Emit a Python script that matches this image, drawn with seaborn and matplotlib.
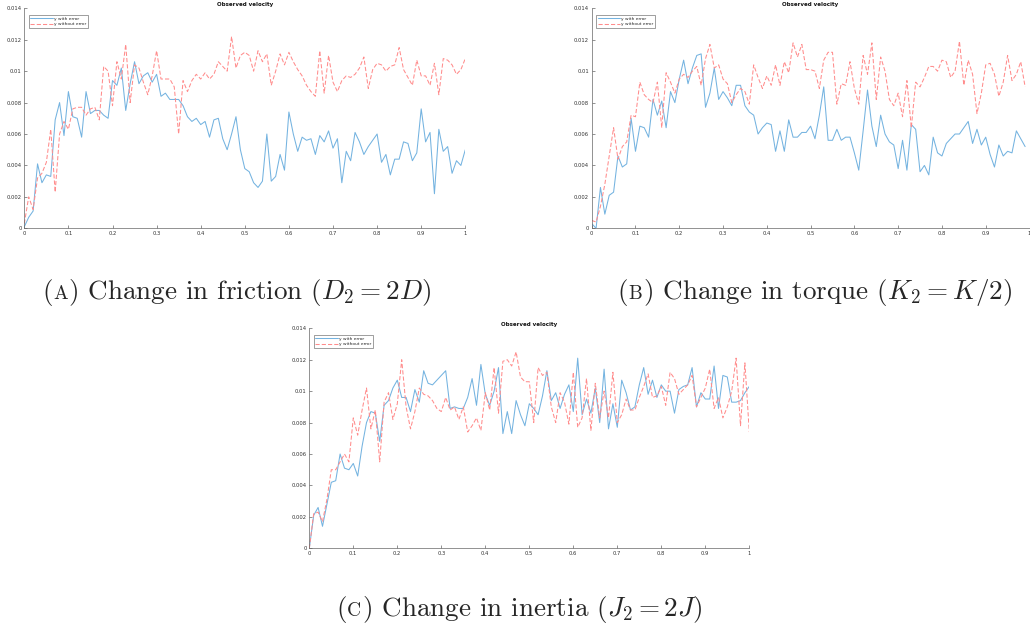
import numpy as np
import pandas as pd
import matplotlib
matplotlib.use("Agg")
import matplotlib.pyplot as plt
import seaborn as sns

# ---------------- data ----------------
t_a = [round(i * 0.01, 2) for i in range(101)]
t_b = [round(i * 0.01, 2) for i in range(100)]
t_c = [round(i * 0.01, 2) for i in range(101)]

a_with = [0.0001, 0.0007, 0.0011, 0.0041, 0.0029, 0.0034, 0.0033, 0.0069, 0.0080, 0.0059,
          0.0087, 0.0071, 0.0070, 0.0058, 0.0087, 0.0073, 0.0075, 0.0075, 0.0072, 0.0070,
          0.0094, 0.0091, 0.0102, 0.0075, 0.0092, 0.0106, 0.0092, 0.0097, 0.0099, 0.0093,
          0.0098, 0.0084, 0.0086, 0.0082, 0.0082, 0.0082, 0.0078, 0.0071, 0.0068, 0.0070,
          0.0066, 0.0068, 0.0058, 0.0069, 0.0070, 0.0057, 0.0050, 0.0060, 0.0071, 0.0050,
          0.0038, 0.0036, 0.0029, 0.0026, 0.0030, 0.0060, 0.0030, 0.0033, 0.0047, 0.0037,
          0.0074, 0.0060, 0.0049, 0.0058, 0.0056, 0.0057, 0.0047, 0.0059, 0.0055, 0.0062,
          0.0051, 0.0057, 0.0029, 0.0049, 0.0043, 0.0061, 0.0055, 0.0047, 0.0052, 0.0056,
          0.0060, 0.0042, 0.0047, 0.0034, 0.0044, 0.0044, 0.0055, 0.0054, 0.0043, 0.0048,
          0.0076, 0.0055, 0.0061, 0.0022, 0.0063, 0.0049, 0.0052, 0.0035, 0.0043, 0.0040,
          0.0050]
a_without = [0.0003, 0.0020, 0.0012, 0.0032, 0.0035, 0.0042, 0.0063, 0.0023, 0.0060, 0.0068,
             0.0063, 0.0076, 0.0077, 0.0077, 0.0072, 0.0076, 0.0077, 0.0069, 0.0103, 0.0100,
             0.0078, 0.0106, 0.0095, 0.0117, 0.0080, 0.0104, 0.0102, 0.0093, 0.0085, 0.0097,
             0.0113, 0.0095, 0.0095, 0.0095, 0.0090, 0.0060, 0.0094, 0.0087, 0.0094, 0.0098,
             0.0095, 0.0099, 0.0095, 0.0098, 0.0106, 0.0103, 0.0100, 0.0122, 0.0102, 0.0110,
             0.0112, 0.0110, 0.0100, 0.0113, 0.0106, 0.0111, 0.0091, 0.0100, 0.0111, 0.0104,
             0.0112, 0.0106, 0.0101, 0.0097, 0.0091, 0.0087, 0.0084, 0.0113, 0.0086, 0.0110,
             0.0093, 0.0087, 0.0094, 0.0097, 0.0096, 0.0098, 0.0102, 0.0109, 0.0089, 0.0101,
             0.0105, 0.0104, 0.0100, 0.0103, 0.0104, 0.0115, 0.0101, 0.0096, 0.0091, 0.0107,
             0.0097, 0.0097, 0.0091, 0.0105, 0.0085, 0.0108, 0.0107, 0.0104, 0.0098, 0.0101,
             0.0108]

b_with = [0.0003, 0.0000, 0.0026, 0.0009, 0.0021, 0.0023, 0.0046, 0.0039, 0.0041, 0.0070,
          0.0049, 0.0065, 0.0064, 0.0058, 0.0082, 0.0072, 0.0081, 0.0064, 0.0087, 0.0080,
          0.0095, 0.0107, 0.0092, 0.0102, 0.0110, 0.0111, 0.0077, 0.0086, 0.0102, 0.0082,
          0.0087, 0.0083, 0.0078, 0.0091, 0.0091, 0.0078, 0.0074, 0.0072, 0.0060, 0.0064,
          0.0067, 0.0066, 0.0049, 0.0062, 0.0049, 0.0069, 0.0058, 0.0058, 0.0061, 0.0061,
          0.0065, 0.0057, 0.0072, 0.0090, 0.0056, 0.0056, 0.0063, 0.0056, 0.0058, 0.0058,
          0.0048, 0.0037, 0.0062, 0.0088, 0.0065, 0.0052, 0.0072, 0.0060, 0.0055, 0.0053,
          0.0038, 0.0056, 0.0037, 0.0066, 0.0063, 0.0036, 0.0040, 0.0034, 0.0058, 0.0048,
          0.0046, 0.0054, 0.0057, 0.0060, 0.0060, 0.0064, 0.0068, 0.0054, 0.0063, 0.0053,
          0.0058, 0.0047, 0.0039, 0.0053, 0.0046, 0.0049, 0.0048, 0.0062, 0.0057, 0.0052]
b_without = [0.0005, 0.0004, 0.0014, 0.0028, 0.0046, 0.0064, 0.0044, 0.0052, 0.0055, 0.0072,
             0.0071, 0.0093, 0.0085, 0.0082, 0.0080, 0.0093, 0.0064, 0.0099, 0.0093, 0.0086,
             0.0095, 0.0098, 0.0096, 0.0100, 0.0103, 0.0091, 0.0108, 0.0117, 0.0102, 0.0104,
             0.0095, 0.0092, 0.0080, 0.0085, 0.0089, 0.0087, 0.0079, 0.0104, 0.0096, 0.0089,
             0.0097, 0.0091, 0.0104, 0.0091, 0.0106, 0.0099, 0.0118, 0.0109, 0.0117, 0.0101,
             0.0101, 0.0100, 0.0089, 0.0107, 0.0112, 0.0112, 0.0079, 0.0092, 0.0091, 0.0106,
             0.0089, 0.0079, 0.0110, 0.0098, 0.0118, 0.0082, 0.0109, 0.0100, 0.0082, 0.0078,
             0.0086, 0.0071, 0.0094, 0.0064, 0.0093, 0.0090, 0.0096, 0.0103, 0.0103, 0.0100,
             0.0107, 0.0106, 0.0096, 0.0100, 0.0119, 0.0091, 0.0107, 0.0098, 0.0073, 0.0086,
             0.0104, 0.0105, 0.0098, 0.0084, 0.0093, 0.0110, 0.0094, 0.0098, 0.0106, 0.0090]

c_with = [0.0000, 0.0021, 0.0026, 0.0014, 0.0028, 0.0042, 0.0043, 0.0060, 0.0051, 0.0050,
          0.0054, 0.0046, 0.0065, 0.0080, 0.0087, 0.0086, 0.0068, 0.0091, 0.0094, 0.0102,
          0.0107, 0.0096, 0.0096, 0.0087, 0.0101, 0.0093, 0.0113, 0.0105, 0.0104, 0.0107,
          0.0110, 0.0113, 0.0089, 0.0090, 0.0089, 0.0089, 0.0096, 0.0108, 0.0091, 0.0117,
          0.0098, 0.0091, 0.0100, 0.0115, 0.0073, 0.0087, 0.0073, 0.0094, 0.0085, 0.0078,
          0.0092, 0.0089, 0.0085, 0.0097, 0.0113, 0.0094, 0.0099, 0.0089, 0.0098, 0.0104,
          0.0087, 0.0121, 0.0085, 0.0095, 0.0086, 0.0102, 0.0080, 0.0114, 0.0076, 0.0092,
          0.0077, 0.0107, 0.0099, 0.0088, 0.0090, 0.0104, 0.0115, 0.0098, 0.0107, 0.0096,
          0.0104, 0.0100, 0.0100, 0.0086, 0.0101, 0.0103, 0.0104, 0.0115, 0.0090, 0.0099,
          0.0095, 0.0095, 0.0116, 0.0089, 0.0110, 0.0109, 0.0093, 0.0093, 0.0094, 0.0099,
          0.0103]
c_without = [0.0000, 0.0022, 0.0023, 0.0017, 0.0031, 0.0050, 0.0050, 0.0055, 0.0060, 0.0055,
             0.0083, 0.0072, 0.0088, 0.0102, 0.0076, 0.0088, 0.0055, 0.0093, 0.0099, 0.0082,
             0.0092, 0.0120, 0.0090, 0.0076, 0.0087, 0.0102, 0.0098, 0.0097, 0.0094, 0.0089,
             0.0087, 0.0096, 0.0088, 0.0090, 0.0082, 0.0090, 0.0074, 0.0078, 0.0083, 0.0075,
             0.0099, 0.0088, 0.0115, 0.0086, 0.0119, 0.0120, 0.0116, 0.0125, 0.0109, 0.0106,
             0.0106, 0.0080, 0.0115, 0.0110, 0.0112, 0.0090, 0.0080, 0.0099, 0.0093, 0.0079,
             0.0112, 0.0077, 0.0083, 0.0108, 0.0075, 0.0105, 0.0083, 0.0100, 0.0083, 0.0112,
             0.0080, 0.0085, 0.0095, 0.0088, 0.0088, 0.0096, 0.0103, 0.0111, 0.0096, 0.0097,
             0.0103, 0.0091, 0.0112, 0.0108, 0.0098, 0.0101, 0.0104, 0.0110, 0.0090, 0.0096,
             0.0102, 0.0114, 0.0089, 0.0096, 0.0083, 0.0090, 0.0100, 0.0121, 0.0078, 0.0118,
             0.0074]

series_labels = ["y with error", "y without error"]
title_text = "Observed velocity"
y_ticks = [0, 0.002, 0.004, 0.006, 0.008, 0.01, 0.012, 0.014]
y_tick_labels = ["0", "0.002", "0.004", "0.006", "0.008", "0.01", "0.012", "0.014"]
x_ticks = [0, 0.1, 0.2, 0.3, 0.4, 0.5, 0.6, 0.7, 0.8, 0.9, 1.0]
x_tick_labels = ["0", "0.1", "0.2", "0.3", "0.4", "0.5", "0.6", "0.7", "0.8", "0.9", "1"]
caption_letters = ["A", "B", "C"]
caption_texts = [r") Change in friction ($D_2 = 2D$)",
                 r") Change in torque ($K_2 = K/2$)",
                 r") Change in inertia ($J_2 = 2J$)"]

# ---------------- style ----------------
sns.set_style("white")
plt.rcParams["font.family"] = ["DejaVu Sans"]
plt.rcParams["mathtext.fontset"] = "cm"
plt.rcParams["font.serif"] = ["cmr10", "DejaVu Serif"]

blue = "#74b3e0"
red = "#ff8c8c"

fig = plt.figure(figsize=(10.30, 6.26), dpi=100)

W, H = 1030.0, 626.0
def rect(l, r, top, bot):
    return [l / W, 1 - bot / H, (r - l) / W, (bot - top) / H]

ax_a = fig.add_axes(rect(24.3, 465.3, 8.3, 228.3))
ax_b = fig.add_axes(rect(591.7, 1029.5, 8.3, 228.3))
ax_c = fig.add_axes(rect(309.3, 749.3, 328.3, 548.3))

panels = [
    (ax_a, t_a, a_with, a_without, (0, 1.0)),
    (ax_b, t_b, b_with, b_without, (0, 0.99)),
    (ax_c, t_c, c_with, c_without, (0, 1.0)),
]

for ax, t, yw, yo, xl in panels:
    df = pd.DataFrame({"t": t, "with": yw, "without": yo})
    sns.lineplot(data=df, x="t", y="with", ax=ax, color=blue, linewidth=0.75,
                 label=series_labels[0])
    sns.lineplot(data=df, x="t", y="without", ax=ax, color=red, linewidth=0.75,
                 linestyle=(0, (4, 2)), label=series_labels[1])
    ax.set_xlim(*xl)
    ax.set_ylim(0, 0.014)
    ax.set_xticks(x_ticks)
    ax.set_xticklabels(x_tick_labels)
    ax.set_yticks(y_ticks)
    ax.set_yticklabels(y_tick_labels)
    ax.set_xlabel("")
    ax.set_ylabel("")
    ax.set_title(title_text, fontsize=4.0, fontweight="bold", pad=1.5, color="#111111")
    for s in ["top", "right"]:
        ax.spines[s].set_visible(False)
    for s in ["left", "bottom"]:
        ax.spines[s].set_color("#666666")
        ax.spines[s].set_linewidth(0.5)
    ax.tick_params(axis="both", direction="in", length=2.5, width=0.5,
                   colors="#666666", labelsize=3.8, labelcolor="#333333", pad=2,
                   left=True, bottom=True)
    leg = ax.legend(loc="upper left", bbox_to_anchor=(0.01, 0.97), borderaxespad=0,
                    fontsize=3.2, frameon=True, fancybox=False, framealpha=1,
                    handlelength=5.0, borderpad=0.4, labelspacing=0.3, handletextpad=0.3)
    leg.get_frame().set_edgecolor("#777777")
    leg.get_frame().set_linewidth(0.5)

# ---------------- captions (small-caps letter) ----------------
fs = 19.5
cap_kw = dict(va="baseline", ha="left", family="serif", math_fontfamily="cm")
centers = [(237, 299), (815, 299), (519, 616)]
fig.canvas.draw()
renderer = fig.canvas.get_renderer()
for (cx, by), letter, rest in zip(centers, caption_letters, caption_texts):
    pieces = [fig.text(0, 1 - by / H, "(", fontsize=fs, **cap_kw),
              fig.text(0, 1 - by / H, letter, fontsize=fs * 0.72, **cap_kw),
              fig.text(0, 1 - by / H, rest, fontsize=fs, **cap_kw)]
    widths = [p.get_window_extent(renderer=renderer).width for p in pieces]
    total = sum(widths) + 1.0
    x = cx - total / 2.0
    for i, (p, w) in enumerate(zip(pieces, widths)):
        p.set_x(x / W)
        x += w + (0.5 if i < 2 else 0)

fig.savefig("out.png", dpi=100)
